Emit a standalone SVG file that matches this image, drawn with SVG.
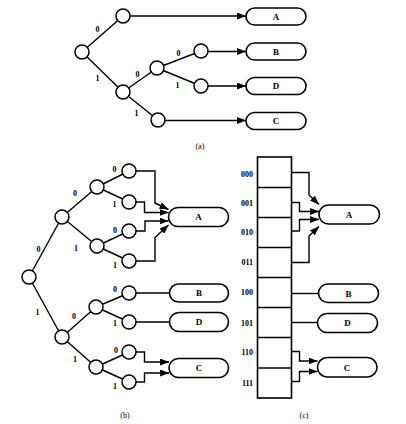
<svg xmlns="http://www.w3.org/2000/svg" width="406" height="424" viewBox="0 0 406 424">
<style>
.n{fill:#fff;stroke:#000;stroke-width:1.5}
.b{fill:#fff;stroke:#000;stroke-width:1.6}
.e{fill:none;stroke:#000;stroke-width:1.4}
.a{fill:none;stroke:#000;stroke-width:1.4;marker-end:url(#ah)}
.t{font-family:"Liberation Serif",serif;font-weight:bold;font-size:9px;text-anchor:middle}
.l{font-family:"Liberation Serif",serif;font-weight:bold;font-size:8px;text-anchor:middle}
.r{font-family:"Liberation Serif",serif;font-weight:bold;font-size:8px;text-anchor:end}
.c{font-family:"Liberation Serif",serif;font-size:8px;text-anchor:middle}
</style>
<defs>
<marker id="ah" markerUnits="userSpaceOnUse" markerWidth="9" markerHeight="7" refX="9" refY="3.5" orient="auto">
<path d="M0,0 L9,3.5 L0,7 z" fill="#000"/>
</marker>
</defs>
<rect width="406" height="424" fill="#fff"/>

<g id="connectors">
<!-- (a) tree edges -->
<path class="e" d="M82,52 L123,16 M82,52 L123,92 M123,92 L157,68 M123,92 L158,120 M157,68 L201,51 M157,68 L201,86"/>
<path class="a" d="M130,16 L246,16"/>
<path class="a" d="M208,51.5 L246,51.5"/>
<path class="a" d="M208,86 L246,86"/>
<path class="a" d="M165,120.5 L246,120.5"/>
<!-- (b) tree edges -->
<path class="e" d="M29,277 L62,217 M29,277 L62,337 M62,217 L97,187 M62,217 L97,246 M97,187 L129,171 M97,187 L129,202 M97,246 L129,231 M97,246 L129,261 M62,337 L96,307 M62,337 L96,367 M96,307 L129,293 M96,307 L129,322 M96,367 L129,352 M96,367 L129,382"/>
<path class="a" d="M136,171 L155,171 L155,203 L168.5,209.5"/>
<path class="a" d="M136,202 L144.5,202 L144.5,212.5 L168.5,212.5"/>
<path class="a" d="M136,231 L145,231 L145,221 L168.5,221"/>
<path class="a" d="M136,261 L155,261 L155,237.5 L168.5,225"/>
<path class="e" d="M136,293 L169.5,293"/>
<path class="e" d="M136,322 L169.5,322"/>
<path class="a" d="M136,352 L144.5,352 L144.5,362 L169,362"/>
<path class="a" d="M136,382 L144.5,382 L144.5,373 L169,373"/>
<!-- (c) table connectors -->
<path class="a" d="M291.5,172.5 L309,172.5 L309,195 L319,204.5"/>
<path class="a" d="M291.5,202.5 L299.5,202.5 L299.5,211.5 L319,211.5"/>
<path class="a" d="M291.5,231 L299.5,231 L299.5,219.5 L319,219.5"/>
<path class="a" d="M291.5,262.5 L309,262.5 L309,236 L319,226.5"/>
<path class="e" d="M291.5,293.5 L318.5,293.5"/>
<path class="e" d="M291.5,322.5 L317.5,322.5"/>
<path class="a" d="M291.5,351.5 L299.5,351.5 L299.5,361 L317.5,361"/>
<path class="a" d="M291.5,381.5 L299.5,381.5 L299.5,371.5 L317.5,371.5"/>
</g>

<!-- (a) nodes -->
<g id="a-root"><circle class="n" cx="82" cy="52" r="7"/></g>
<g id="a-n0"><circle class="n" cx="123" cy="16" r="7"/></g>
<g id="a-n1"><circle class="n" cx="123" cy="92" r="7"/></g>
<g id="a-n10"><circle class="n" cx="157" cy="68" r="7"/></g>
<g id="a-n11"><circle class="n" cx="158" cy="120" r="7"/></g>
<g id="a-n100"><circle class="n" cx="201" cy="51" r="7"/></g>
<g id="a-n101"><circle class="n" cx="201" cy="86" r="7"/></g>
<g id="a-A"><rect class="b" x="246" y="8" width="60" height="17" rx="8.5"/><text class="t" x="276" y="19.5">A</text></g>
<g id="a-B"><rect class="b" x="246" y="43" width="60" height="17" rx="8.5"/><text class="t" x="276" y="54.5">B</text></g>
<g id="a-D"><rect class="b" x="246" y="77.5" width="60" height="17" rx="8.5"/><text class="t" x="276" y="89">D</text></g>
<g id="a-C"><rect class="b" x="246" y="112.5" width="60" height="17" rx="8.5"/><text class="t" x="276" y="124">C</text></g>
<g id="a-labels">
<text class="l" x="97.5" y="32">0</text>
<text class="l" x="97.5" y="81">1</text>
<text class="l" x="137.5" y="77">0</text>
<text class="l" x="136.5" y="115.5">1</text>
<text class="l" x="178.5" y="56">0</text>
<text class="l" x="177.5" y="88">1</text>
<text class="c" x="200" y="149">(a)</text>
</g>

<!-- (b) nodes -->
<g id="b-root"><circle class="n" cx="29" cy="277" r="7"/></g>
<g id="b-n0"><circle class="n" cx="62" cy="217" r="7"/></g>
<g id="b-n1"><circle class="n" cx="62" cy="337" r="7"/></g>
<g id="b-n00"><circle class="n" cx="97" cy="187" r="7"/></g>
<g id="b-n01"><circle class="n" cx="97" cy="246" r="7"/></g>
<g id="b-n10"><circle class="n" cx="96" cy="307" r="7"/></g>
<g id="b-n11"><circle class="n" cx="96" cy="367" r="7"/></g>
<g id="b-n000"><circle class="n" cx="129" cy="171" r="7"/></g>
<g id="b-n001"><circle class="n" cx="129" cy="202" r="7"/></g>
<g id="b-n010"><circle class="n" cx="129" cy="231" r="7"/></g>
<g id="b-n011"><circle class="n" cx="129" cy="261" r="7"/></g>
<g id="b-n100"><circle class="n" cx="129" cy="293" r="7"/></g>
<g id="b-n101"><circle class="n" cx="129" cy="322" r="7"/></g>
<g id="b-n110"><circle class="n" cx="129" cy="352" r="7"/></g>
<g id="b-n111"><circle class="n" cx="129" cy="382" r="7"/></g>
<g id="b-A"><rect class="b" x="168.5" y="207.5" width="60" height="19" rx="9.5"/><text class="t" x="198.5" y="220">A</text></g>
<g id="b-B"><rect class="b" x="169.5" y="284" width="59" height="18" rx="9"/><text class="t" x="199" y="296">B</text></g>
<g id="b-D"><rect class="b" x="169.5" y="312.5" width="59" height="19" rx="9.5"/><text class="t" x="199" y="325">D</text></g>
<g id="b-C"><rect class="b" x="169" y="358.5" width="59.5" height="19" rx="9.5"/><text class="t" x="199" y="371">C</text></g>
<g id="b-labels">
<text class="l" x="38.5" y="252">0</text>
<text class="l" x="37.5" y="315">1</text>
<text class="l" x="75" y="196">0</text>
<text class="l" x="76" y="251">1</text>
<text class="l" x="74" y="318.5">0</text>
<text class="l" x="75" y="362">1</text>
<text class="l" x="114.5" y="172">0</text>
<text class="l" x="114.5" y="207">1</text>
<text class="l" x="115" y="233">0</text>
<text class="l" x="115" y="268">1</text>
<text class="l" x="115" y="292">0</text>
<text class="l" x="115" y="326">1</text>
<text class="l" x="116" y="353">0</text>
<text class="l" x="115" y="389">1</text>
<text class="c" x="125" y="418">(b)</text>
</g>

<!-- (c) table -->
<g id="c-table">
<rect x="257.5" y="157" width="34" height="241" fill="none" stroke="#000" stroke-width="1.6"/>
<path class="e" d="M257.5,187.5 H291.5 M257.5,217.5 H291.5 M257.5,247.5 H291.5 M257.5,277.5 H291.5 M257.5,307.5 H291.5 M257.5,337.5 H291.5 M257.5,368 H291.5"/>
<text class="r" x="253" y="177">000</text>
<text class="r" x="253" y="206">001</text>
<text class="r" x="253" y="235">010</text>
<text class="r" x="253" y="265">011</text>
<text class="r" x="253" y="295">100</text>
<text class="r" x="253" y="325.5">101</text>
<text class="r" x="253" y="354.5">110</text>
<text class="r" x="253" y="385.5">111</text>
</g>
<g id="c-A"><rect class="b" x="319" y="205" width="60.5" height="19" rx="9.5"/><text class="t" x="349" y="217.5">A</text></g>
<g id="c-B"><rect class="b" x="318.5" y="284" width="60" height="18.5" rx="9.25"/><text class="t" x="348.5" y="296.5">B</text></g>
<g id="c-D"><rect class="b" x="317.5" y="313.5" width="60" height="19" rx="9.5"/><text class="t" x="347.5" y="326">D</text></g>
<g id="c-C"><rect class="b" x="317.5" y="357.5" width="59.5" height="19.5" rx="9.75"/><text class="t" x="347" y="370.5">C</text></g>
<text class="c" x="304" y="418">(c)</text>
</svg>
